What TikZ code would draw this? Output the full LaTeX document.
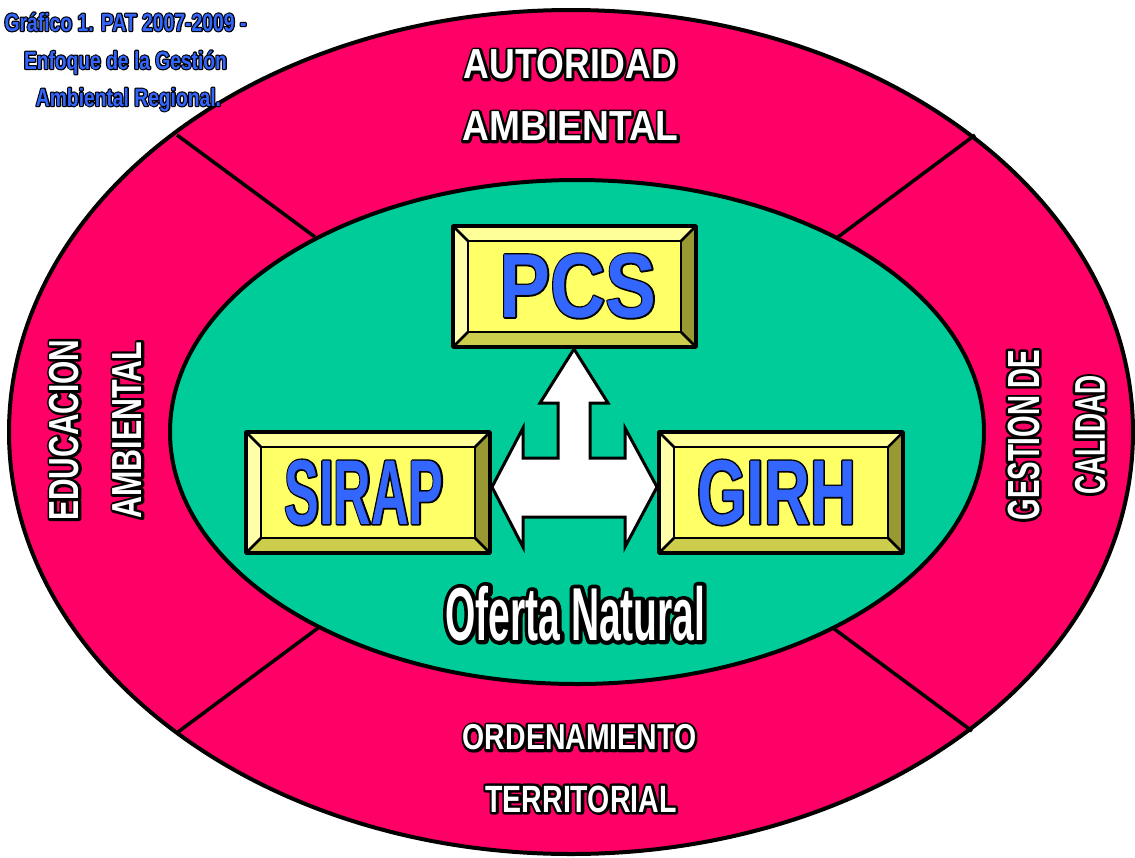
\documentclass[tikz,border=0pt]{standalone}
\usepackage{fontspec}
\setmainfont{Liberation Sans}
\definecolor{mag}{HTML}{FF0066}
\definecolor{grn}{HTML}{00CC99}
\definecolor{tblue}{HTML}{3366FF}
\definecolor{bvface}{HTML}{FFFF66}
\definecolor{bvtop}{HTML}{FFFF99}
\definecolor{bvleft}{HTML}{FFFFAA}
\definecolor{bvright}{HTML}{999933}
\definecolor{bvbot}{HTML}{CCCC4D}
\newcommand\olon[1]{\special{pdf:literal direct 2 Tr #1 w 1 j}}
\newcommand\oloff{\special{pdf:literal direct 0 Tr}}
% outline stroke width, colour, font size, horizontal stretch, text
\newcommand\ftext[5]{{\fontsize{#3}{#3}\selectfont\bfseries\addfontfeatures{FakeStretch=#4}%
\rlap{\color{black}\olon{#1}#5\oloff}{\color{#2}#5}}}
\newcommand\bevelbox[5]{% x1 y1 x2 y2 bevel
  \fill[bvtop] (#1,#2) -- (#3,#2) -- (#3-#5,#2+#5) -- (#1+#5,#2+#5) -- cycle;
  \fill[bvleft] (#1,#2) -- (#1+#5,#2+#5) -- (#1+#5,#4-#5) -- (#1,#4) -- cycle;
  \fill[bvright] (#3,#2) -- (#3-#5,#2+#5) -- (#3-#5,#4-#5) -- (#3,#4) -- cycle;
  \fill[bvbot] (#1,#4) -- (#1+#5,#4-#5) -- (#3-#5,#4-#5) -- (#3,#4) -- cycle;
  \fill[bvface] (#1+#5,#2+#5) rectangle (#3-#5,#4-#5);
  \draw[bvline] (#1,#2) -- (#1+#5,#2+#5) (#3,#2) -- (#3-#5,#2+#5)
     (#1,#4) -- (#1+#5,#4-#5) (#3,#4) -- (#3-#5,#4-#5);
  \draw[bvline] (#1+#5,#2+#5) rectangle (#3-#5,#4-#5);
  \draw[line width=3.5pt] (#1,#2) rectangle (#3,#4);
}
\tikzset{
  txt/.style={inner sep=0pt, outer sep=0pt},
  bvline/.style={line width=2.5pt},
  divider/.style={line width=3.5pt},
}
\begin{document}
\begin{tikzpicture}[x=1pt,y=-1pt,line join=round]
\useasboundingbox (0,0) rectangle (1135,857);
\fill[white] (0,0) rectangle (1135,857);
% rings
\draw[line width=4pt, fill=mag] (571,432) ellipse [x radius=562, y radius=422];
\draw[line width=4pt, fill=grn] (577,432) ellipse [x radius=407, y radius=252];
\coordinate (o1) at (177,135); \coordinate (i1) at (315,237);
\coordinate (o2) at (975,135); \coordinate (i2) at (838,237);
\coordinate (o3) at (178,732); \coordinate (i3) at (318,628);
\coordinate (o4) at (972,731); \coordinate (i4) at (833,628);
\draw[divider] (o1) -- (i1);
\draw[divider] (o2) -- (i2);
\draw[divider] (o3) -- (i3);
\draw[divider] (o4) -- (i4);
% boxes
\bevelbox{453}{226}{696}{347}{15}
\bevelbox{246}{432}{490}{553}{15}
\bevelbox{659}{432}{903}{553}{15}
% block arrow
\draw[line width=3pt, fill=white, line join=miter] (574,349) -- (608,403) -- (590,403) -- (590,458) -- (625,458) -- (625,428) -- (657,487) -- (625,547) -- (625,517) -- (523,517) -- (523,547) -- (492,487) -- (523,428) -- (523,458) -- (558,458) -- (558,403) -- (540,403) -- cycle;
% box labels
\node[txt] (pcs) at (578,286) {\ftext{3}{tblue}{91}{0.839}{PCS}};
\node[txt] (sirap) at (364,492.5) {\ftext{3}{tblue}{92}{0.565}{SIRAP}};
\node[txt] (girh) at (776.5,492.5) {\ftext{3}{tblue}{92}{0.691}{GIRH}};
\node[txt] (oferta) at (575.5,613.5) {\ftext{8}{white}{75}{0.52}{Oferta Natural}};
% ring labels
\node[txt] (aut1) at (570.5,64.5) {\ftext{5}{white}{42}{0.85}{AUTORIDAD}};
\node[txt] (aut2) at (570.5,126.5) {\ftext{5}{white}{42}{0.885}{AMBIENTAL}};
\node[txt] (ord1) at (579.5,737.5) {\ftext{5}{white}{36}{0.79}{ORDENAMIENTO}};
\node[txt] (ord2) at (581,799) {\ftext{5}{white}{38}{0.75}{TERRITORIAL}};
\node[txt, rotate=90] (edu1) at (64.5,430) {\ftext{5}{white}{42}{0.712}{EDUCACION}};
\node[txt, rotate=90] (edu2) at (127.5,430) {\ftext{5}{white}{42}{0.724}{AMBIENTAL}};
\node[txt, rotate=90] (ges1) at (1023.5,435) {\ftext{5}{white}{45}{0.616}{GESTION DE}};
\node[txt, rotate=90] (ges2) at (1090,435) {\ftext{5}{white}{43}{0.615}{CALIDAD}};
% title
\node[txt, anchor=base] (t1) at (125.5,31) {\ftext{2.4}{tblue}{25}{0.774}{Gráfico 1. PAT 2007-2009 -}};
\node[txt, anchor=base] (t2) at (125.5,69) {\ftext{2.4}{tblue}{25}{0.769}{Enfoque de la Gestión}};
\node[txt, anchor=base] (t3) at (128.5,106) {\ftext{2.4}{tblue}{25}{0.77}{Ambiental Regional.}};
\end{tikzpicture}
\end{document}
